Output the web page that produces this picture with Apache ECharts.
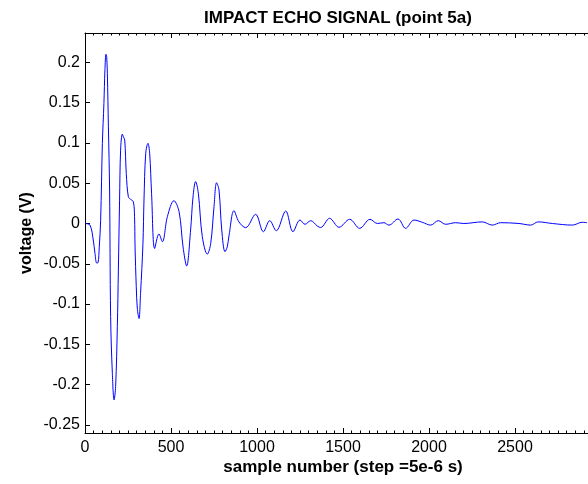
<!DOCTYPE html>
<html>
<head>
<meta charset="utf-8">
<script src="https://cdn.jsdelivr.net/npm/echarts@6/dist/echarts.min.js"></script>
<style>
html,body{margin:0;padding:0;background:#fff;}
#chart{width:588px;height:484px;}
</style>
</head>
<body>
<div id="chart"></div>
<script>
var titleText = 'IMPACT ECHO SIGNAL (point 5a)';
var xName = 'sample number (step =5e-6 s)';
var yName = 'voltage (V)';
var yTicks = [-0.25, -0.2, -0.15, -0.1, -0.05, 0, 0.05, 0.1, 0.15, 0.2];
var samples = [0,29,48,58,68,76,83,91,101,110,116,122,126,130,136,143,149,159,169,178,188,194,201,207,217,223,231,240,252,265,281,288,291,298,304,314,323,337,343,353,366,376,387,405,430,450,479,517,547,570,591,614,628,643,659,682,711,731,750,765,779,795,814,827,837,866,895,934,992,1037,1074,1112,1167,1209,1250,1279,1312,1350,1370,1422,1477,1539,1597,1657,1700,1738,1767,1820,1864,1913,1961,2010,2054,2097,2155,2203,2310,2368,2417,2523,2591,2635,2717,2833,2891,2919];
var voltage = [0,-0.002,-0.0205,-0.037,-0.049,-0.0486,-0.029,0.004,0.0995,0.149,0.191,0.21,0.207,0.186,0.12,0.0416,-0.1156,-0.186,-0.219,-0.2025,-0.128,-0.0577,0.029,0.091,0.111,0.1077,0.1036,0.062,0.033,0.03,0.027,0.0085,-0.029,-0.078,-0.105,-0.118,-0.087,-0.0246,0.029,0.087,0.0995,0.087,0.0375,-0.031,-0.013,-0.0226,0.0085,0.0283,0.0146,-0.029,-0.0527,-0.008,0.033,0.052,0.0375,-0.0164,-0.038,-0.0246,0.0208,0.0506,0.0416,-0.008,-0.035,-0.029,-0.0155,0.0159,0.002,-0.0052,0.0114,-0.0102,0.0035,-0.009,0.0155,-0.0102,0.0043,-0.001,0.0035,-0.003,-0.005,0.0064,-0.0047,0.0052,-0.006,0.0052,0,0.001,-0.002,0.0056,-0.006,0.0043,0.0015,-0.002,0.0035,-0.001,0.001,0,0.002,-0.002,0.001,0,-0.002,0.002,0,-0.002,0.0015,0.001];

var seriesData = samples.map(function (s, i) { return [s, voltage[i]]; });
var FONT = 'Liberation Sans, Arial, sans-serif';

var chart = echarts.init(document.getElementById('chart'), null, {renderer: 'canvas'});
var xCommon = {
  type: 'value', min: 0, max: 3000, interval: 500,
  axisLine: {show: true, onZero: false, lineStyle: {color: '#000', width: 1}},
  axisTick: {show: true, inside: true, length: 5, lineStyle: {color: '#000'}},
  minorTick: {show: true, splitNumber: 10, length: 2.5, lineStyle: {color: '#000'}},
  splitLine: {show: false}
};
chart.setOption({
  animation: false,
  backgroundColor: '#fff',
  title: {
    text: titleText, left: 199, top: 5,
    textStyle: {fontFamily: FONT, fontWeight: 'bold', fontSize: 17, color: '#000'}
  },
  grid: {left: 85, top: 33, width: 516, height: 400, containLabel: false, outerBoundsMode: 'none'},
  xAxis: [
    Object.assign({}, xCommon, {
      position: 'bottom',
      name: xName, nameLocation: 'middle', nameGap: 26, nameMoveOverlap: false,
      nameTextStyle: {fontFamily: FONT, fontWeight: 'bold', fontSize: 17, color: '#000'},
      axisLabel: {
        show: true, margin: 7, fontFamily: FONT, fontSize: 16, color: '#000',
        showMaxLabel: false,
        formatter: function (v) { return String(v); }
      }
    }),
    Object.assign({}, xCommon, {
      position: 'top',
      axisLabel: {show: false}
    })
  ],
  yAxis: {
    type: 'value', min: -0.26, max: 0.2364,
    name: yName, nameLocation: 'middle', nameRotate: 90, nameGap: 50, nameMoveOverlap: false,
    nameTextStyle: {fontFamily: FONT, fontWeight: 'bold', fontSize: 16, color: '#000'},
    axisLine: {show: true, onZero: false, lineStyle: {color: '#000', width: 1}},
    axisTick: {show: true, inside: true, length: 5, customValues: yTicks, lineStyle: {color: '#000'}},
    axisLabel: {
      show: true, margin: 5, fontFamily: FONT, fontSize: 16, color: '#000',
      customValues: yTicks,
      formatter: function (v) { return String(+(+v).toFixed(2)); }
    },
    splitLine: {show: false}
  },
  series: [{
    type: 'line',
    xAxisIndex: 0,
    data: seriesData,
    showSymbol: false,
    smooth: 0.35,
    lineStyle: {color: '#0000ff', width: 1},
    itemStyle: {color: '#0000ff'}
  }]
});
</script>
</body>
</html>
